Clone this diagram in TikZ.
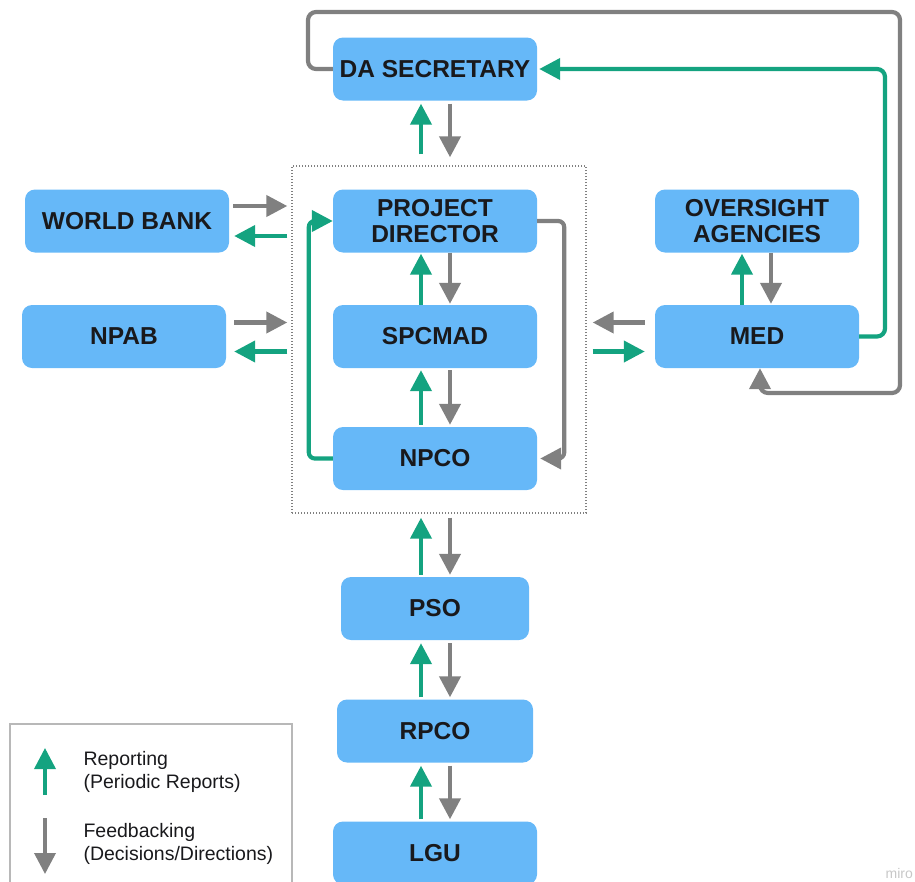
\documentclass[tikz,border=0pt]{standalone}
\usepackage{fontspec}
\setmainfont{Liberation Sans}
\usetikzlibrary{arrows.meta,calc}
\definecolor{boxblue}{RGB}{102,184,248}
\definecolor{repgreen}{RGB}{20,163,128}
\definecolor{fbgray}{RGB}{128,128,128}
\definecolor{txt}{RGB}{25,25,28}
\tikzset{
  unit/.style={fill=boxblue, rounded corners=10pt, minimum width=204pt, minimum height=63pt,
    align=center, text=txt, font=\fontsize{24.5}{26}\selectfont\bfseries, inner sep=0pt},
  rep/.style={draw=repgreen, line width=4.2pt, -{Triangle[length=21pt,width=21pt]}},
  fb/.style={draw=fbgray, line width=4.2pt, -{Triangle[length=21pt,width=21pt]}},
  legtext/.style={anchor=west, align=left, text=txt, font=\fontsize{19.5}{23}\selectfont},
}
\begin{document}
\begin{tikzpicture}[x=1pt,y=-1pt]
\useasboundingbox (0,0) rectangle (915,881);
% dotted group
\node[draw=fbgray, dash pattern=on 1.4pt off 1.6pt, line width=1.4pt, minimum width=294pt, minimum height=347pt, inner sep=0pt] (core) at (439,339.5) {};
% boxes
\node[unit] (sec) at (435,69) {DA SECRETARY};
\node[unit] (pd) at (435,221) {PROJECT\\DIRECTOR};
\node[unit] (spc) at (435,336.5) {SPCMAD};
\node[unit] (npco) at (435,458.5) {NPCO};
\node[unit] (wb) at (127,221) {WORLD BANK};
\node[unit] (npab) at (124,336.5) {NPAB};
\node[unit] (ova) at (757,221) {OVERSIGHT\\AGENCIES};
\node[unit] (med) at (757,336.5) {MED};
\node[unit, minimum width=188pt] (pso) at (435,608.5) {PSO};
\node[unit, minimum width=196pt] (rpco) at (435,731) {RPCO};
\node[unit] (lgu) at (435,853) {LGU};
% DA <-> core
\draw[rep, shorten <=11pt, shorten >=3pt] ([xshift=-14pt]sec.south |- core.north) -- ([xshift=-14pt]sec.south);
\draw[fb, shorten <=3pt, shorten >=8pt] ([xshift=15pt]sec.south) -- ([xshift=15pt]sec.south |- core.north);
% PD <-> SPCMAD
\draw[rep, shorten >=1pt] ([xshift=-14pt]spc.north) -- ([xshift=-14pt]pd.south);
\draw[fb, shorten >=1pt] ([xshift=15pt]pd.south) -- ([xshift=15pt]spc.north);
% SPCMAD <-> NPCO
\draw[rep, shorten >=2pt, shorten <=2pt] ([xshift=-14pt]npco.north) -- ([xshift=-14pt]spc.south);
\draw[fb, shorten <=2pt, shorten >=2pt] ([xshift=15pt]spc.south) -- ([xshift=15pt]npco.north);
% loops inside core
\draw[rep, rounded corners=6pt] (npco.west) -- ++(-24pt,0) |- (pd.west);
\draw[fb, rounded corners=6pt] (pd.east) -- ++(27pt,0) |- ([xshift=3pt]npco.east);
% core <-> PSO
\draw[rep, shorten >=4pt, shorten <=2pt] ([xshift=-14pt]pso.north) -- ([xshift=-14pt]pso.north |- core.south);
\draw[fb, shorten <=4pt, shorten >=2pt] ([xshift=15pt]pso.north |- core.south) -- ([xshift=15pt]pso.north);
% PSO <-> RPCO
\draw[rep, shorten >=3pt, shorten <=2pt] ([xshift=-14pt]rpco.north) -- ([xshift=-14pt]pso.south);
\draw[fb, shorten <=3pt, shorten >=2pt] ([xshift=15pt]pso.south) -- ([xshift=15pt]rpco.north);
% RPCO <-> LGU
\draw[rep, shorten >=3pt, shorten <=2pt] ([xshift=-14pt]lgu.north) -- ([xshift=-14pt]rpco.south);
\draw[fb, shorten <=3pt, shorten >=2pt] ([xshift=15pt]rpco.south) -- ([xshift=15pt]lgu.north);
% World Bank <-> core
\draw[fb, shorten <=4pt, shorten >=4pt] ([yshift=15pt]wb.east) -- ([yshift=15pt]wb.east -| core.west);
\draw[rep, shorten <=4pt, shorten >=5pt] ([yshift=-15pt]wb.east -| core.west) -- ([yshift=-15pt]wb.east);
% NPAB <-> core
\draw[fb, shorten <=8pt, shorten >=4pt] ([yshift=14pt]npab.east) -- ([yshift=14pt]npab.east -| core.west);
\draw[rep, shorten <=4pt, shorten >=8pt] ([yshift=-15pt]npab.east -| core.west) -- ([yshift=-15pt]npab.east);
% MED <-> core
\draw[fb, shorten <=10pt, shorten >=6pt] ([yshift=14pt]med.west) -- ([yshift=14pt]med.west -| core.east);
\draw[rep, shorten <=6pt, shorten >=10pt] ([yshift=-15pt]med.west -| core.east) -- ([yshift=-15pt]med.west);
% MED <-> Oversight
\draw[rep, shorten >=1pt] ([xshift=-15pt]med.north) -- ([xshift=-15pt]ova.south);
\draw[fb, shorten >=1pt] ([xshift=14pt]ova.south) -- ([xshift=14pt]med.north);
% long loops
\coordinate (gtl) at (308,12);
\coordinate (gbr) at (900,393);
\coordinate (grt) at (885,69);
\draw[fb, rounded corners=8pt] (sec.west) -| (gtl) -| (gbr) -| ([xshift=3pt]med.south);
\draw[rep, rounded corners=8pt, shorten >=2pt] (med.east) -| (grt) -- (sec.east);
% legend
\node[draw=black!28, line width=1.3pt, minimum width=282pt, minimum height=170pt, inner sep=0pt] (leg) at (151,809) {};
\coordinate (la1) at (45,795);
\coordinate (la2) at (45,748);
\coordinate (lb1) at (45,818);
\coordinate (lb2) at (45,874);
\draw[rep, line width=3.6pt] (la1) -- (la2);
\draw[fb, line width=3.6pt] (lb1) -- (lb2);
\node[legtext] (lrep) at (80,772) {Reporting\\(Periodic Reports)};
\node[legtext] (lfb) at (80,843.5) {Feedbacking\\(Decisions/Directions)};
% watermark
\node[anchor=east, text=black!22, font=\fontsize{14}{15}\selectfont, inner sep=0pt] (wm) at (913,873) {miro};
\end{tikzpicture}
\end{document}
